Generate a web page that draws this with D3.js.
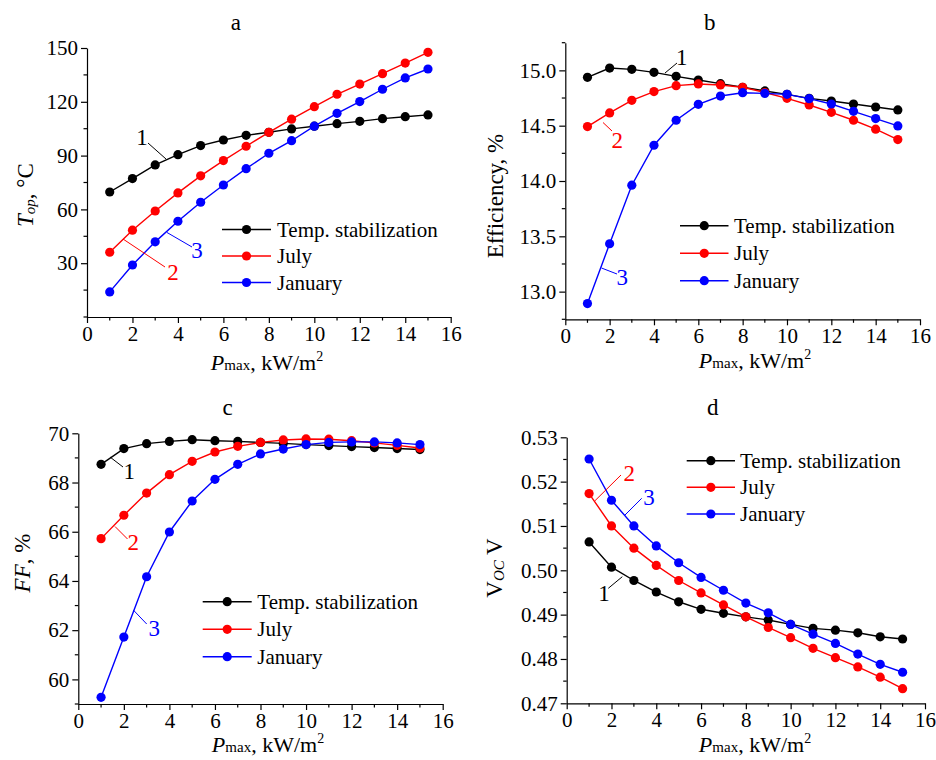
<!DOCTYPE html>
<html><head><meta charset="utf-8">
<script src="https://cdn.jsdelivr.net/npm/d3@7"></script>
<style>
body{margin:0;background:#fff;}
svg{display:block;}
svg text{font-family:"Liberation Serif","Tinos","Times New Roman","Nimbus Roman","DejaVu Serif",serif !important;}
</style></head>
<body><svg id="c" width="936" height="760"></svg>
<script>
// ---- data ----
const pmax = [1,2,3,4,5,6,7,8,9,10,11,12,13,14,15];
const seriesNames = ["Temp. stabilization","July","January"];
const seriesColors = ["#000000","#ff0000","#0000ff"];
const xTicks = [0,2,4,6,8,10,12,14,16];

const topStab = [69.7,77.2,84.8,90.5,95.6,98.7,101.3,103.0,104.9,106.4,107.8,109.1,110.6,111.7,112.7];
const topJuly = [36.1,48.4,59.1,69.2,78.7,87.2,95.2,103.0,110.3,117.3,124.2,129.9,135.7,141.6,147.6];
const topJan  = [14.0,29.0,41.9,53.4,64.0,73.6,82.7,91.3,98.3,106.4,113.6,120.1,127.0,133.3,138.3];
const topTicks = [30,60,90,120,150];

const effStab = [14.937,15.021,15.009,14.982,14.946,14.913,14.880,14.847,14.814,14.783,14.747,14.723,14.696,14.669,14.642];
const effJuly = [14.492,14.615,14.729,14.808,14.862,14.877,14.868,14.847,14.800,14.747,14.687,14.621,14.549,14.468,14.374];
const effJan  = [12.892,13.433,13.962,14.323,14.549,14.693,14.768,14.798,14.792,14.783,14.744,14.696,14.630,14.564,14.498];
const effTicks = [13.0,13.5,14.0,14.5,15.0];

const ffStab = [68.74,69.38,69.58,69.67,69.74,69.70,69.67,69.63,69.59,69.54,69.50,69.46,69.42,69.38,69.34];
const ffJuly = [65.72,66.67,67.57,68.32,68.86,69.24,69.47,69.63,69.73,69.77,69.76,69.70,69.61,69.51,69.40];
const ffJan  = [59.27,61.72,64.17,65.99,67.25,68.13,68.74,69.16,69.36,69.54,69.63,69.65,69.65,69.61,69.54];
const ffTicks = [60,62,64,66,68,70];

const vocStab = [0.5064,0.5007,0.4977,0.4951,0.4929,0.4912,0.4903,0.4895,0.4888,0.4878,0.4869,0.4865,0.4859,0.4850,0.4845];
const vocJuly = [0.5173,0.5100,0.5050,0.5011,0.4977,0.4949,0.4922,0.4895,0.4871,0.4848,0.4824,0.4803,0.4782,0.4759,0.4733];
const vocJan  = [0.5251,0.5158,0.5100,0.5055,0.5017,0.4984,0.4955,0.4926,0.4904,0.4878,0.4856,0.4835,0.4811,0.4788,0.4770];
const vocTicks = [0.47,0.48,0.49,0.50,0.51,0.52,0.53];

// ---- layout ----
const panels = [
  {title:"a", series:[topStab,topJuly,topJan], yDom:[0,150], yTicks:topTicks, yMinor:15, fmt:d3.format("d"),
   x0:87, x1:450.7, yT:48, yB:317, titleY:30, xLabX:267, xLabY:370, yLabX:25, yLabY:195, ylab:"a",
   leg:{x0:222, x1:271, tx:277, ys:[229.5,256,282.5]},
   ann:[{t:"1",c:0,x:142,y:145,l:[148,143,166,159]},{t:"2",c:1,x:173,y:280,l:[123,239,165,267]},{t:"3",c:2,x:197,y:258,l:[167,232.5,192,247]}]},
  {title:"b", series:[effStab,effJuly,effJan], yDom:[12.75,15.25], yTicks:effTicks, yMinor:0.25, fmt:d3.format(".1f"),
   x0:565.3, x1:920, yT:42.7, yB:319.3, titleY:30, xLabX:755, xLabY:368, yLabX:495, yLabY:196, ylab:"b",
   leg:{x0:680, x1:728.5, tx:734, ys:[225.7,253.3,280.7]},
   ann:[{t:"1",c:0,x:681.7,y:65,l:[677,63,665,73]},{t:"2",c:1,x:617.3,y:148,l:[603,122.5,612,131]},{t:"3",c:2,x:622.3,y:285,l:[601.5,268,617,274]}]},
  {title:"c", series:[ffStab,ffJuly,ffJan], yDom:[59,70], yTicks:ffTicks, yMinor:1, fmt:d3.format("d"),
   x0:78.3, x1:442.7, yT:433.3, yB:704, titleY:415, xLabX:268, xLabY:752, yLabX:22, yLabY:563, ylab:"c",
   leg:{x0:202.7, x1:251.7, tx:257.3, ys:[601.7,629.3,656.7]},
   ann:[{t:"1",c:0,x:129.3,y:479,l:[110,457,123,467]},{t:"2",c:1,x:133.3,y:550,l:[115,526.5,127.5,539]},{t:"3",c:2,x:154.3,y:636,l:[133.3,610,146.7,624]}]},
  {title:"d", series:[vocStab,vocJuly,vocJan], yDom:[0.47,0.53], yTicks:vocTicks, yMinor:0.005, fmt:d3.format(".2f"),
   x0:566.7, x1:925, yT:437.3, yB:703.3, titleY:415, xLabX:755, xLabY:752, yLabX:494, yLabY:568, ylab:"d",
   leg:{x0:686.7, x1:735, tx:740, ys:[460.7,487.3,514]},
   ann:[{t:"2",c:1,x:629.3,y:481,l:[595,500.7,621,475]},{t:"3",c:2,x:649,y:505,l:[625,515,641.7,498.3]},{t:"1",c:0,x:604,y:601,l:[608.3,588.3,622.3,576.7]}]}
];

const svg = d3.select("#c");
const FS = 21;

function yLabel(g, p){
  const t = g.append("text").attr("transform",`translate(${p.yLabX},${p.yLabY}) rotate(-90)`)
    .attr("text-anchor","middle").attr("dominant-baseline","central").attr("font-size",23);
  if(p.ylab==="a"){
    t.append("tspan").attr("font-style","italic").text("T");
    t.append("tspan").attr("font-style","italic").attr("font-size",15).attr("dy",5).text("op");
    t.append("tspan").attr("dy",-5).text(", °C");
  } else if(p.ylab==="b"){
    t.text("Efficiency, %");
  } else if(p.ylab==="c"){
    t.append("tspan").attr("font-style","italic").text("FF");
    t.append("tspan").text(", %");
  } else {
    t.append("tspan").text("V");
    t.append("tspan").attr("font-style","italic").attr("font-size",15).attr("dy",5).text("OC");
    t.append("tspan").attr("dy",-5).text(" V");
  }
}

panels.forEach(p=>{
  const g = svg.append("g");
  const x = d3.scaleLinear().domain([0,16]).range([p.x0,p.x1]);
  const y = d3.scaleLinear().domain(p.yDom).range([p.yB,p.yT]);

  // x axis
  const xa = g.append("g").attr("transform",`translate(0,${p.yB})`)
    .call(d3.axisBottom(x).tickValues(xTicks).tickSize(6).tickPadding(3).tickSizeOuter(0));
  xa.attr("font-family",null);
  xa.select(".domain").attr("stroke","#000").attr("stroke-width",1.2);
  xa.selectAll(".tick line").attr("stroke-width",1.2);
  xa.selectAll("text").attr("font-size",FS).attr("fill","#000");
  const xMinor = d3.range(1,16,2);
  xa.selectAll(".mt").data(xMinor).enter().append("line").attr("class","mt")
    .attr("x1",d=>x(d)).attr("x2",d=>x(d)).attr("y1",0).attr("y2",3.5).attr("stroke","#000").attr("stroke-width",1.2);

  // y axis
  const ya = g.append("g").attr("transform",`translate(${p.x0},0)`)
    .call(d3.axisLeft(y).tickValues(p.yTicks).tickFormat(p.fmt).tickSize(6).tickPadding(3).tickSizeOuter(0));
  ya.attr("font-family",null);
  ya.select(".domain").attr("stroke","#000").attr("stroke-width",1.2);
  ya.selectAll(".tick line").attr("stroke-width",1.2);
  ya.selectAll("text").attr("font-size",FS).attr("fill","#000");
  const yMinor = [];
  for(let v=p.yDom[0]; v<=p.yDom[1]+1e-9; v+=p.yMinor){
    const r = Math.round(v*10000)/10000;
    if(!p.yTicks.some(t=>Math.abs(t-r)<1e-6)) yMinor.push(r);
  }
  ya.selectAll(".mt").data(yMinor).enter().append("line").attr("class","mt")
    .attr("y1",d=>y(d)).attr("y2",d=>y(d)).attr("x1",0).attr("x2",-3.5).attr("stroke","#000").attr("stroke-width",1.2);

  // title
  g.append("text").attr("x",(p.x0+p.x1)/2 - 33).attr("y",p.titleY).attr("text-anchor","middle")
    .attr("font-size",23).text(p.title);

  // x label
  const xl = g.append("text").attr("x",p.xLabX).attr("y",p.xLabY).attr("text-anchor","middle").attr("font-size",22);
  xl.append("tspan").attr("font-style","italic").text("P");
  xl.append("tspan").attr("font-size",15).text("max");
  xl.append("tspan").text(", kW/m");
  xl.append("tspan").attr("font-size",14).attr("dy",-9).text("2");

  yLabel(g,p);

  // series
  const line = d3.line().x((d,i)=>x(pmax[i])).y(d=>y(d));
  p.series.forEach((s,k)=>{
    g.append("path").datum(s).attr("d",line).attr("fill","none").attr("stroke",seriesColors[k]).attr("stroke-width",1.4);
    g.selectAll(null).data(s).enter().append("circle")
      .attr("cx",(d,i)=>x(pmax[i])).attr("cy",d=>y(d)).attr("r",4.6).attr("fill",seriesColors[k]);
  });

  // legend
  seriesNames.forEach((nm,k)=>{
    const yy = p.leg.ys[k];
    g.append("line").attr("x1",p.leg.x0).attr("x2",p.leg.x1).attr("y1",yy).attr("y2",yy)
      .attr("stroke",seriesColors[k]).attr("stroke-width",1.4);
    g.append("circle").attr("cx",(p.leg.x0+p.leg.x1)/2).attr("cy",yy).attr("r",4.6).attr("fill",seriesColors[k]);
    g.append("text").attr("x",p.leg.tx).attr("y",yy).attr("dominant-baseline","central")
      .attr("font-size",FS).attr("fill","#000").text(nm);
  });

  // annotations
  p.ann.forEach(a=>{
    g.append("line").attr("x1",a.l[0]).attr("y1",a.l[1]).attr("x2",a.l[2]).attr("y2",a.l[3])
      .attr("stroke",seriesColors[a.c]).attr("stroke-width",1);
    g.append("text").attr("x",a.x).attr("y",a.y).attr("text-anchor","middle").attr("font-size",23)
      .attr("fill",seriesColors[a.c]).text(a.t);
  });
});
</script></body></html>
